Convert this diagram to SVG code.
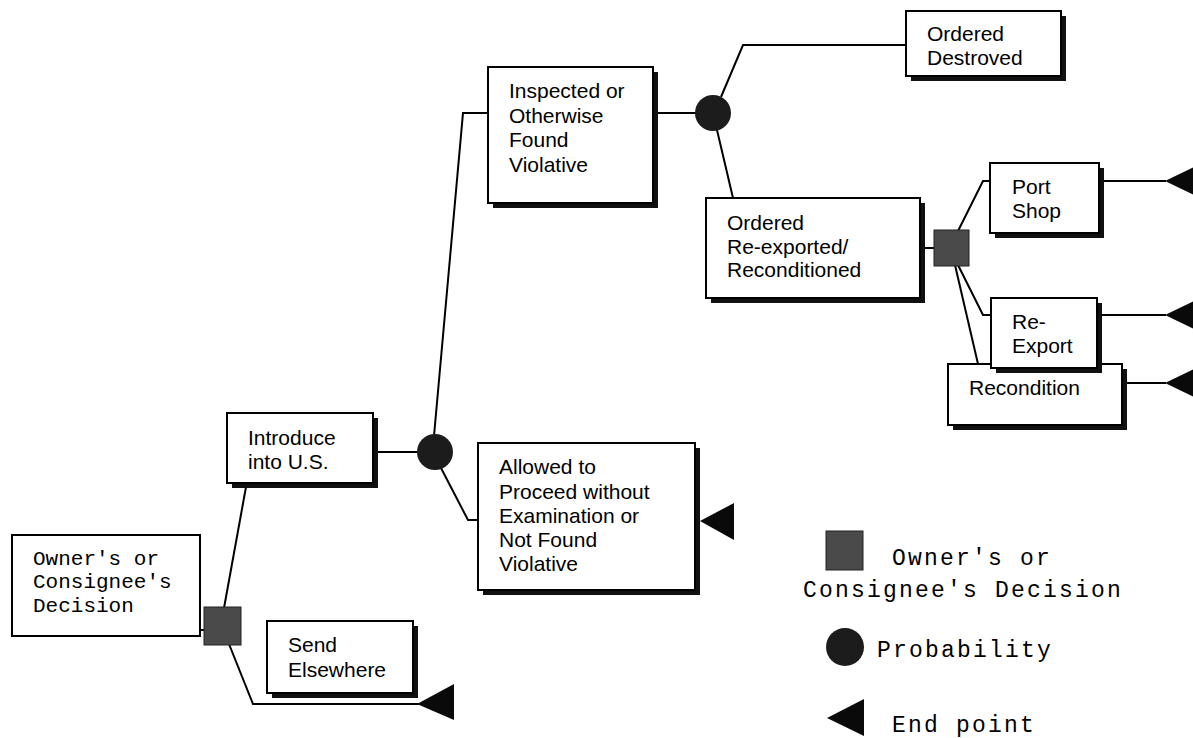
<svg xmlns="http://www.w3.org/2000/svg" width="1193" height="738" viewBox="0 0 1193 738">
<style>
.box{fill:#fff;stroke:#000;stroke-width:2}
.sh{fill:#111}
.sans{font-family:"Liberation Sans",Arial,sans-serif;font-size:21px;fill:#000}
.mono{font-family:"Liberation Mono","Courier New",monospace;font-size:21px;fill:#000}
.leg{font-family:"Liberation Mono","Courier New",monospace;font-size:23px;letter-spacing:2.2px;fill:#000}
.conn{fill:none;stroke:#000;stroke-width:2}
.dec{fill:#4a4a4a;stroke:#222;stroke-width:1}
.prob{fill:#1c1c1c}
.end{fill:#0a0a0a}
</style>
<rect width="1193" height="738" fill="#fff"/>
<g id="connectors">
<path class="conn" d="M200,630 H206"/>
<path class="conn" d="M224,608 L246,487"/>
<path class="conn" d="M229,644 L253,704 H420"/>
<path class="conn" d="M378,452 H418"/>
<path class="conn" d="M434,436 L463,113 H488"/>
<path class="conn" d="M441,468 L468,520 H478"/>
<path class="conn" d="M658,113 H697"/>
<path class="conn" d="M721,97 L743,45 H906"/>
<path class="conn" d="M717,130 L733,198"/>
<path class="conn" d="M925,248 H935"/>
<path class="conn" d="M958,231 L983,181 H990"/>
<path class="conn" d="M958,265 L983,315 H991"/>
<path class="conn" d="M955,265 L978,364"/>
<path class="conn" d="M1104,181 H1166"/>
<path class="conn" d="M1102,315 H1166"/>
<path class="conn" d="M1127,383 H1166"/>
</g>
<g id="owner">
<rect class="box" x="12" y="535" width="188" height="101"/>
<text class="mono" x="33" y="565">Owner's or</text>
<text class="mono" x="33" y="588">Consignee's</text>
<text class="mono" x="33" y="612">Decision</text>
</g>
<g id="decision1"><rect class="dec" x="204" y="607" width="37" height="38"/></g>
<g id="introduce">
<rect class="sh" x="232" y="418" width="146" height="70"/>
<rect class="box" x="227" y="413" width="146" height="70"/>
<text class="sans" x="248" y="445">Introduce</text>
<text class="sans" x="248" y="469">into U.S.</text>
</g>
<g id="send">
<rect class="sh" x="272" y="626" width="146" height="72"/>
<rect class="box" x="267" y="621" width="146" height="72"/>
<text class="sans" x="288" y="652">Send</text>
<text class="sans" x="288" y="677">Elsewhere</text>
</g>
<g id="end-send"><polygon class="end" points="417,704 454,684 454,720"/></g>
<g id="prob1"><circle class="prob" cx="435" cy="452" r="18"/></g>
<g id="inspected">
<rect class="sh" x="493" y="72" width="165" height="136"/>
<rect class="box" x="488" y="67" width="165" height="136"/>
<text class="sans" x="509" y="98">Inspected or</text>
<text class="sans" x="509" y="123">Otherwise</text>
<text class="sans" x="509" y="147">Found</text>
<text class="sans" x="509" y="172">Violative</text>
</g>
<g id="allowed">
<rect class="sh" x="483" y="448" width="217" height="147"/>
<rect class="box" x="478" y="443" width="217" height="147"/>
<text class="sans" x="499" y="474">Allowed to</text>
<text class="sans" x="499" y="499">Proceed without</text>
<text class="sans" x="499" y="523">Examination or</text>
<text class="sans" x="499" y="547">Not Found</text>
<text class="sans" x="499" y="571">Violative</text>
</g>
<g id="end-allowed"><polygon class="end" points="700,521 734,503 734,540"/></g>
<g id="prob2"><circle class="prob" cx="713" cy="113" r="18"/></g>
<g id="destroyed">
<rect class="sh" x="911" y="16" width="155" height="65"/>
<rect class="box" x="906" y="11" width="155" height="65"/>
<text class="sans" x="927" y="41">Ordered</text>
<text class="sans" x="927" y="65">Destroved</text>
</g>
<g id="reexported">
<rect class="sh" x="711" y="203" width="214" height="100"/>
<rect class="box" x="706" y="198" width="214" height="100"/>
<text class="sans" x="727" y="230">Ordered</text>
<text class="sans" x="727" y="254">Re-exported/</text>
<text class="sans" x="727" y="277">Reconditioned</text>
</g>
<g id="decision2"><rect class="dec" x="934" y="230" width="35" height="36"/></g>
<g id="portshop">
<rect class="sh" x="995" y="168" width="109" height="70"/>
<rect class="box" x="990" y="163" width="109" height="70"/>
<text class="sans" x="1012" y="194">Port</text>
<text class="sans" x="1012" y="218">Shop</text>
</g>
<g id="recondition">
<rect class="sh" x="953" y="369" width="174" height="61"/>
<rect class="box" x="948" y="364" width="174" height="61"/>
<text class="sans" x="969" y="395">Recondition</text>
</g>
<g id="reexport">
<rect class="sh" x="996" y="303" width="106" height="70"/>
<rect class="box" x="991" y="298" width="106" height="70"/>
<text class="sans" x="1012" y="329">Re-</text>
<text class="sans" x="1012" y="353">Export</text>
</g>
<g id="end-portshop"><polygon class="end" points="1165,181 1200,164 1200,198"/></g>
<g id="end-reexport"><polygon class="end" points="1165,315 1200,298 1200,332"/></g>
<g id="end-recondition"><polygon class="end" points="1165,383 1200,366 1200,400"/></g>
<g id="legend">
<rect class="dec" x="826" y="531" width="37" height="39"/>
<text class="leg" x="892" y="565">Owner's or</text>
<text class="leg" x="803" y="597">Consignee's Decision</text>
<circle class="prob" cx="845" cy="647" r="19"/>
<text class="leg" x="877" y="657">Probability</text>
<polygon class="end" points="827,718 864,699 864,736"/>
<text class="leg" x="892" y="732">End point</text>
</g>
</svg>
